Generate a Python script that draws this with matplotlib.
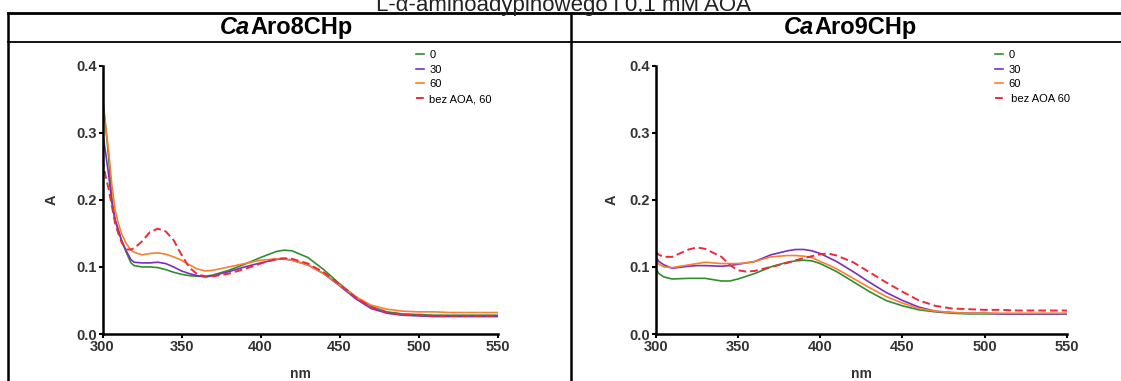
import matplotlib
matplotlib.use("Agg")
import matplotlib.pyplot as plt
from matplotlib.lines import Line2D

plt.rcParams["font.family"] = ["Liberation Sans", "DejaVu Sans"]

# ---- data ----
wl_8 = [300, 302, 304, 306, 308, 310, 312, 315, 318, 320, 325, 330, 335, 340, 345, 350,
        355, 360, 365, 370, 380, 390, 400, 410, 415, 420, 430, 440, 450, 460, 470, 480,
        490, 500, 510, 520, 530, 540, 550]
aro8_0 = [0.354, 0.31, 0.26, 0.20, 0.17, 0.155, 0.14, 0.122, 0.106, 0.102, 0.100, 0.100,
          0.099, 0.096, 0.092, 0.089, 0.087, 0.086, 0.086, 0.088, 0.095, 0.104, 0.114,
          0.123, 0.125, 0.124, 0.114, 0.096, 0.075, 0.056, 0.041, 0.033, 0.030, 0.029,
          0.028, 0.028, 0.028, 0.028, 0.028]
aro8_30 = [0.30, 0.27, 0.235, 0.195, 0.17, 0.155, 0.14, 0.124, 0.111, 0.107, 0.106, 0.106,
           0.107, 0.105, 0.100, 0.094, 0.090, 0.087, 0.085, 0.087, 0.093, 0.100, 0.106,
           0.111, 0.112, 0.110, 0.103, 0.090, 0.072, 0.053, 0.038, 0.031, 0.028, 0.027,
           0.026, 0.026, 0.026, 0.026, 0.026]
aro8_60 = [0.345, 0.31, 0.27, 0.22, 0.185, 0.165, 0.15, 0.135, 0.125, 0.122, 0.118, 0.120,
           0.121, 0.119, 0.115, 0.110, 0.103, 0.097, 0.094, 0.095, 0.100, 0.105, 0.110,
           0.112, 0.112, 0.110, 0.103, 0.090, 0.073, 0.056, 0.043, 0.037, 0.034, 0.033,
           0.033, 0.032, 0.032, 0.032, 0.032]
aro8_noaoa = [0.26, 0.235, 0.215, 0.19, 0.165, 0.15, 0.137, 0.126, 0.126, 0.128, 0.138,
              0.152, 0.157, 0.153, 0.140, 0.118, 0.099, 0.089, 0.086, 0.086, 0.090, 0.097,
              0.105, 0.112, 0.113, 0.112, 0.105, 0.092, 0.074, 0.055, 0.040, 0.032, 0.029,
              0.028, 0.027, 0.027, 0.027, 0.027, 0.027]

wl_9 = [300, 302, 305, 310, 320, 325, 330, 340, 345, 350, 355, 360, 370, 380, 385, 390,
        395, 400, 405, 410, 420, 430, 440, 450, 460, 470, 480, 490, 500, 510, 520, 530,
        540, 550]
aro9_0 = [0.097, 0.090, 0.085, 0.082, 0.083, 0.083, 0.083, 0.079, 0.079, 0.082, 0.086,
          0.090, 0.100, 0.107, 0.109, 0.110, 0.109, 0.105, 0.099, 0.093, 0.078, 0.063,
          0.050, 0.042, 0.036, 0.033, 0.031, 0.030, 0.030, 0.030, 0.030, 0.030, 0.030,
          0.030]
aro9_30 = [0.115, 0.108, 0.103, 0.098, 0.101, 0.102, 0.102, 0.101, 0.102, 0.104, 0.106,
           0.108, 0.118, 0.124, 0.126, 0.126, 0.124, 0.120, 0.114, 0.108, 0.093, 0.077,
           0.062, 0.050, 0.040, 0.034, 0.032, 0.031, 0.031, 0.030, 0.030, 0.030, 0.030,
           0.030]
aro9_60 = [0.110, 0.104, 0.100, 0.099, 0.103, 0.105, 0.107, 0.105, 0.105, 0.105, 0.106,
           0.108, 0.115, 0.117, 0.117, 0.116, 0.114, 0.108, 0.103, 0.097, 0.083, 0.069,
           0.056, 0.046, 0.038, 0.034, 0.032, 0.031, 0.031, 0.031, 0.031, 0.031, 0.031,
           0.031]
aro9_noaoa = [0.123, 0.118, 0.115, 0.115, 0.126, 0.129, 0.127, 0.115, 0.103, 0.095, 0.093,
              0.094, 0.100, 0.106, 0.110, 0.113, 0.116, 0.119, 0.120, 0.117, 0.107, 0.092,
              0.077, 0.063, 0.050, 0.042, 0.038, 0.037, 0.036, 0.036, 0.035, 0.035, 0.035,
              0.035]

labels_8 = ["0", "30", "60", "bez AOA, 60"]
labels_9 = ["0", "30", "60", " bez AOA 60"]
colors = ["#2f8f2f", "#7a2fc0", "#f7812e", "#ee2a3a"]
styles = ["-", "-", "-", "--"]
caption = "L-\u03b1-aminoadypinowego i 0,1 mM AOA"
titles = [("Ca", "Aro8CHp"), ("Ca", "Aro9CHp")]

W, H = 1121, 381
fig = plt.figure(figsize=(W / 100, H / 100), dpi=100)


def fx(px):
    return px / W


def fy(py):
    return 1 - py / H


# table lines
fig.add_artist(Line2D([fx(8), 1], [fy(13), fy(13)], color="black", lw=2.0))
fig.add_artist(Line2D([fx(8), 1], [fy(41.5), fy(41.5)], color="black", lw=1.3))
fig.add_artist(Line2D([fx(8), fx(8)], [fy(13), 0], color="black", lw=1.8))
fig.add_artist(Line2D([fx(571), fx(571)], [fy(13), 0], color="black", lw=1.8))

# caption of the source page, its top cut off as in the reference
fig.text(fx(564), fy(11), caption, ha="center", va="baseline", fontsize=16,
         color="#222222")

panels = [
    (102.5, 497.5, wl_8, [aro8_0, aro8_30, aro8_60, aro8_noaoa], labels_8, 286, (420, 58), 13),
    (655.7, 1067, wl_9, [aro9_0, aro9_30, aro9_60, aro9_noaoa], labels_9, 850, (999, 58), 8),
]

renderer = fig.canvas.get_renderer()

for i, (x0, x1, wl, series, labels, hx, leg, ypad) in enumerate(panels):
    ax = fig.add_axes([fx(x0), fy(334), fx(x1 - x0), fy(65.7) - fy(334)])
    for ys, c, ls, lab in zip(series, colors, styles, labels):
        ax.plot(wl, ys, color=c, ls=ls, lw=1.2 if ls == "-" else 1.4, label=lab,
                dashes=(4, 2) if ls == "--" else (None, None))
    ax.set_xlim(300, 550)
    ax.set_ylim(0, 0.4)
    ax.set_xticks([300, 350, 400, 450, 500, 550])
    ax.set_yticks([0.0, 0.1, 0.2, 0.3, 0.4])
    ax.set_yticklabels(["0.0", "0.1", "0.2", "0.3", "0.4"])
    for s in ["top", "right"]:
        ax.spines[s].set_visible(False)
    for s in ["left", "bottom"]:
        ax.spines[s].set_linewidth(1.8)
    ax.tick_params(length=3, width=1.5, pad=1, labelsize=10.5, labelcolor="#333333")
    for t in ax.get_xticklabels() + ax.get_yticklabels():
        t.set_fontweight("bold")
    ax.set_xlabel("nm", fontsize=10, fontweight="bold", color="#333333", labelpad=10)
    ax.set_ylabel("A", fontsize=10.5, fontweight="bold", color="#333333", labelpad=ypad)
    ax.legend(loc="upper left", bbox_to_anchor=(fx(leg[0] - 4), fy(leg[1] - 8)),
              bbox_transform=fig.transFigure, frameon=False, fontsize=8,
              handlelength=0.75, handletextpad=0.45, labelspacing=0.42,
              borderaxespad=0, borderpad=0)

    # header: italic "Ca" + bold rest
    a, b = titles[i]
    t1 = fig.text(0, fy(27.5), a, fontsize=17, fontweight="bold", style="italic",
                  va="center", ha="left")
    t2 = fig.text(0, fy(27.5), b, fontsize=17, fontweight="bold", va="center", ha="left")
    w1 = t1.get_window_extent(renderer).width
    w2 = t2.get_window_extent(renderer).width
    start = hx - (w1 + w2) / 2
    t1.set_x(fx(start))
    t2.set_x(fx(start + w1))

fig.savefig("out.png", dpi=100)
